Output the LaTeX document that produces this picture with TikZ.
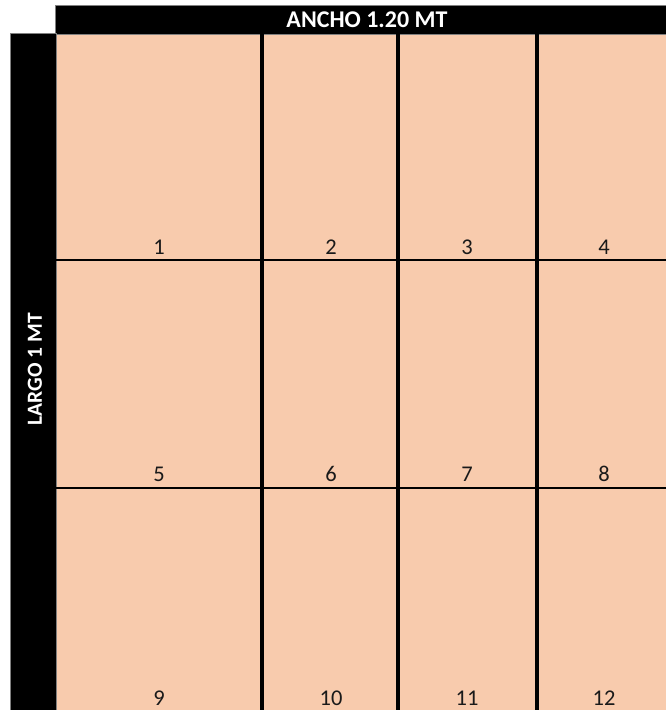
\documentclass[tikz,border=0pt]{standalone}
\usepackage{fontspec}
\setmainfont{Carlito}
\usetikzlibrary{positioning}
\definecolor{peach}{HTML}{F8CBAD}
\definecolor{edgegray}{HTML}{808080}
\definecolor{ink}{HTML}{1A1A1A}
\tikzset{
  bar/.style   = {fill=black, draw=edgegray, line width=0.8pt},
  cellbg/.style = {fill=peach},
  vline/.style = {draw=black, line width=3.6pt},
  hline/.style = {draw=black, line width=2.6pt},
  num/.style   = {font=\fontsize{22.5}{26}\selectfont, text=ink, anchor=base, inner sep=0pt},
  head/.style  = {font=\bfseries\fontsize{24}{28}\selectfont, text=white, inner sep=0pt}
}
\begin{document}
\begin{tikzpicture}[x=1pt, y=-1pt]
    \useasboundingbox (0,0) rectangle (665,710);
    % sheet
    \fill[cellbg] (56,34) rectangle (667,712);
    \draw[bar] (55,5) rectangle (668,34);
    \draw[bar] (10,33) rectangle (56,713);
    \node[head] (ancho) at (367,20) {ANCHO 1.20 MT};
    \node[head, rotate=90, font=\bfseries\fontsize{21.5}{26}\selectfont] (largo) at (35,369) {LARGO 1 MT};
    % grid
    \draw[vline] (262,34) -- (262,712);
    \draw[vline] (398,34) -- (398,712);
    \draw[vline] (537,34) -- (537,712);
    \draw[hline] (56,260) -- (667,260);
    \draw[hline] (56,488) -- (667,488);
    % cell numbers
    \node[num] (c1) at (159,254) {1};
    \node[num] (c2) at (331,254) {2};
    \node[num] (c3) at (467,254) {3};
    \node[num] (c4) at (604,254) {4};
    \node[num] (c5) at (159,481) {5};
    \node[num] (c6) at (331,481) {6};
    \node[num] (c7) at (467,481) {7};
    \node[num] (c8) at (604,481) {8};
    \node[num] (c9) at (159,705) {9};
    \node[num] (c10) at (331,705) {10};
    \node[num] (c11) at (467,705) {11};
    \node[num] (c12) at (604,705) {12};
\end{tikzpicture}
\end{document}
